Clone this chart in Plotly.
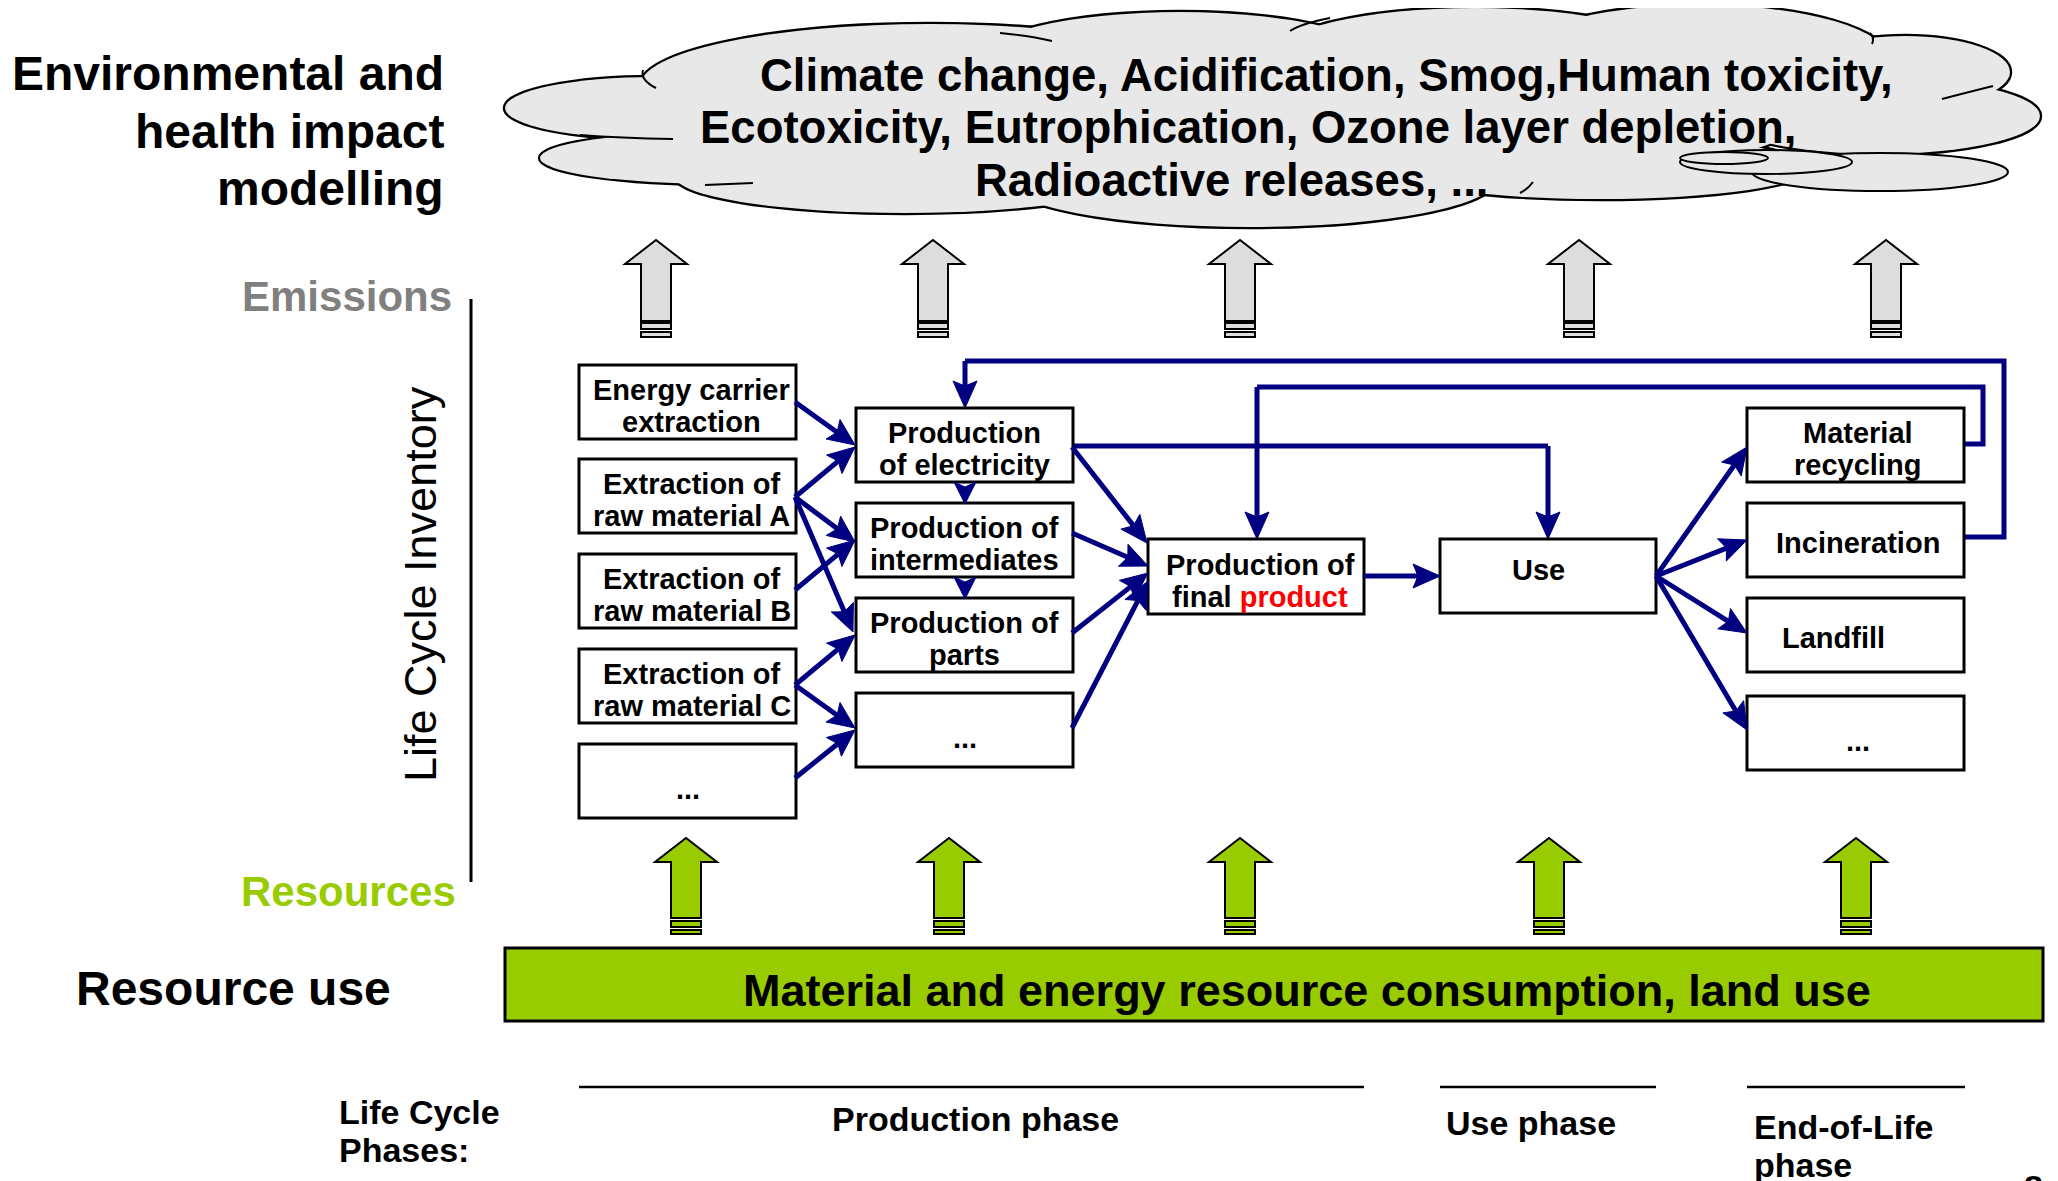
import math
import plotly.graph_objects as go

W, H = 2058, 1181
OFF = 8  # page body margin of the html file
FONT = "Liberation Sans, Arial, Helvetica, sans-serif"
NAVY = "#000080"
GREEN = "#99CC00"
CLOUD = "#E8E8E8"
EMIS = "#DDDDDD"

# ---------------- text content ----------------
impact_title = ["Environmental and", "health impact", "modelling"]
impact_categories = ["Climate change, Acidification, Smog,Human toxicity,",
                     "Ecotoxicity, Eutrophication, Ozone layer depletion,",
                     "Radioactive releases, ..."]
extraction_labels = [["Energy carrier", "extraction"], ["Extraction of", "raw material A"],
                     ["Extraction of", "raw material B"], ["Extraction of", "raw material C"], ["..."]]
production_labels = [["Production", "of electricity"], ["Production of", "intermediates"],
                     ["Production of", "parts"], ["..."]]
final_label = ["Production of", "final <span style='color:#FF0000'>product</span>"]
use_label = ["Use"]
eol_labels = [["Material", "recycling"], ["Incineration"], ["Landfill"], ["..."]]
resource_bar_text = "Material and energy resource consumption, land use"
phase_labels = ["Production phase", "Use phase", ["End-of-Life", "phase"]]

# ---------------- layout geometry ----------------
COL1_X = (579, 796)
COL1_Y = [365, 459, 554, 649, 744]
COL2_X = (856, 1073)
COL2_Y = [408, 503, 598, 693]
EOL_X = (1747, 1964)
EOL_Y = [408, 503, 598, 696]
BOX_H = 74
FINAL_BOX = (1148, 539, 1364, 614)
USE_BOX = (1440, 539, 1656, 613)
EMIS_X = [656, 933, 1240, 1579, 1886]
RES_X = [686, 949, 1240, 1549, 1856]

shapes = []
annos = []


def text(x, y, s, size, color="black", bold=True, xanchor="center", angle=0):
    annos.append(dict(x=x, y=y, xref="x", yref="y", text=(f"<b>{s}</b>" if bold else s),
                      showarrow=False, xanchor=xanchor, yanchor="middle", textangle=angle,
                      font=dict(family=FONT, size=size, color=color)))


def box(x0, y0, x1, y1, lines, size=29, dx=0, offs=None):
    shapes.append(dict(type="rect", x0=x0, y0=y0, x1=x1, y1=y1,
                       line=dict(color="black", width=3), fillcolor="white"))
    cx = (x0 + x1) / 2 + dx
    cy = (y0 + y1) / 2
    if len(lines) == 2:
        ys = [cy - 12, cy + 20]
    else:
        ys = [cy + (offs if offs is not None else 3)]
    for s, yy in zip(lines, ys):
        text(cx, yy, s, size)


def arrow(x0, y0, x1, y1, L=27, Wd=12, color=NAVY, width=5):
    dx, dy = x1 - x0, y1 - y0
    d = math.hypot(dx, dy)
    ux, uy = dx / d, dy / d
    px, py = -uy, ux
    bx, by = x1 - L * ux, y1 - L * uy
    nx, ny = x1 - (L - 5) * ux, y1 - (L - 5) * uy
    if d > L:
        shapes.append(dict(type="line", x0=x0, y0=y0, x1=nx, y1=ny,
                           line=dict(color=color, width=width)))
    path = (f"M{x1},{y1} L{bx + Wd * px},{by + Wd * py} L{nx},{ny} "
            f"L{bx - Wd * px},{by - Wd * py} Z")
    shapes.append(dict(type="path", path=path, fillcolor=color, line=dict(color=color, width=1)))


def polyline_arrow(pts, color=NAVY, width=5, L=27, Wd=12):
    d = "M" + " L".join(f"{x},{y}" for x, y in pts[:-1])
    shapes.append(dict(type="path", path=d, line=dict(color=color, width=width)))
    arrow(pts[-2][0], pts[-2][1], pts[-1][0], pts[-1][1], L=L, Wd=Wd, color=color, width=width)


def block_arrow(cx, tip, head_base, shaft_bot, stripes, fill, hw=31, sw=15):
    path = (f"M{cx - sw},{shaft_bot} L{cx - sw},{head_base} L{cx - hw},{head_base} L{cx},{tip} "
            f"L{cx + hw},{head_base} L{cx + sw},{head_base} L{cx + sw},{shaft_bot} Z")
    shapes.append(dict(type="path", path=path, fillcolor=fill, line=dict(color="black", width=2)))
    for a, b in stripes:
        shapes.append(dict(type="rect", x0=cx - sw, x1=cx + sw, y0=a, y1=b,
                           fillcolor=fill, line=dict(color="black", width=2)))


# ---------------- cloud ----------------
cloud_lobes = [  # cx, cy, rx, ry
    (655, 108, 150, 31), (720, 158, 180, 26), (905, 176, 230, 37), (1250, 180, 245, 47),
    (1600, 168, 210, 31), (930, 86, 290, 62), (1180, 60, 200, 48), (1475, 55, 200, 47),
    (1700, 60, 190, 55), (1905, 72, 105, 36), (1880, 116, 160, 38), (1300, 120, 500, 70),
]
for cx, cy, rx, ry in cloud_lobes:
    shapes.append(dict(type="circle", x0=cx - rx, x1=cx + rx, y0=cy - ry, y1=cy + ry,
                       fillcolor=CLOUD, line=dict(color="black", width=4.5)))
for cx, cy, rx, ry in cloud_lobes:
    shapes.append(dict(type="circle", x0=cx - rx, x1=cx + rx, y0=cy - ry, y1=cy + ry,
                       fillcolor=CLOUD, line=dict(width=0)))
cloud_hooks = ["M643,70 Q640,80 656,88", "M1000,33 Q1030,36 1052,41", "M1870,33 Q1875,38 1872,44",
               "M1942,99 Q1965,93 1993,86", "M1520,193 Q1528,189 1533,182", "M580,135 Q620,138 673,139",
               "M753,183 L705,185", "M1290,31 Q1300,24 1330,18"]
for p in cloud_hooks:
    shapes.append(dict(type="path", path=p, line=dict(color="black", width=2)))
for cx, cy, rx, ry in [(1880, 172, 128, 19), (1766, 162, 86, 12), (1724, 158, 44, 6)]:
    shapes.append(dict(type="circle", x0=cx - rx, x1=cx + rx, y0=cy - ry, y1=cy + ry,
                       fillcolor=CLOUD, line=dict(color="black", width=2)))

for s, x, y in zip(impact_categories, [1326, 1248, 1231], [75, 127, 180]):
    text(x, y, s, 45.5)

# ---------------- left labels ----------------
for s, y in zip(impact_title, [73, 131, 188]):
    text(446, y, s, 48, xanchor="right")
text(454, 296, "Emissions", 42, color="#808080", xanchor="right")
text(458, 891, "Resources", 42, color=GREEN, xanchor="right")
text(420, 584, "Life Cycle Inventory", 45, bold=False, angle=-90)
text(74, 988, "Resource use", 48, xanchor="left")
shapes.append(dict(type="line", x0=471, x1=471, y0=299, y1=882, line=dict(color="black", width=3)))

# ---------------- emission / resource arrows ----------------
for cx in EMIS_X:
    block_arrow(cx, 240, 264, 321, [(323, 329), (332, 337)], EMIS)
for cx in RES_X:
    block_arrow(cx, 838, 862, 918, [(921, 927), (930, 934)], GREEN, sw=15)

# resource bar
shapes.append(dict(type="rect", x0=505, x1=2043, y0=948, y1=1021, fillcolor=GREEN,
                   line=dict(color="black", width=3)))
text(1307, 990, resource_bar_text, 45)

# ---------------- feedback loops (drawn first, under boxes) ----------------
polyline_arrow([(1964, 537), (2004, 537), (2004, 361), (965, 361), (965, 408)])
polyline_arrow([(1964, 444), (1983, 444), (1983, 387), (1257, 387), (1257, 539)])
polyline_arrow([(1072, 446), (1548, 446), (1548, 539)])

# ---------------- boxes ----------------
for y0, lab in zip(COL1_Y, extraction_labels):
    box(COL1_X[0], y0, COL1_X[1], y0 + BOX_H, lab, dx=4 if len(lab) == 2 else 0,
        offs=8 if lab == ["..."] else None)
for y0, lab in zip(COL2_Y, production_labels):
    box(COL2_X[0], y0, COL2_X[1], y0 + BOX_H, lab, offs=8 if lab == ["..."] else None)
box(*FINAL_BOX, final_label, dx=4)
box(*USE_BOX, use_label, dx=-10, offs=-6)
for y0, lab in zip(EOL_Y, eol_labels):
    box(EOL_X[0], y0, EOL_X[1], y0 + BOX_H, lab,
        dx=-22 if lab == ["Landfill"] else 2, offs=8 if lab == ["..."] else 3)

# ---------------- flow arrows ----------------
flows = [
    ((795, 402), (855, 445)), ((795, 497), (855, 447)), ((795, 497), (855, 542)),
    ((795, 497), (853, 632)), ((795, 590), (855, 540)), ((795, 685), (855, 635)),
    ((795, 685), (855, 728)), ((795, 778), (855, 730)),
    ((1072, 447), (1147, 543)), ((1072, 533), (1148, 566)), ((1072, 633), (1148, 573)),
    ((1072, 728), (1148, 581)),
    ((1364, 576), (1440, 576)),
    ((1656, 576), (1747, 447)), ((1656, 576), (1747, 540)), ((1656, 576), (1747, 633)),
    ((1656, 576), (1747, 730)),
]
for (a, b), (c, d) in flows:
    arrow(a, b, c, d)
arrow(965, 482, 965, 504, L=22, Wd=11)
arrow(965, 577, 965, 599, L=22, Wd=11)

# ---------------- life cycle phases ----------------
for x0, x1 in [(579, 1364), (1440, 1656), (1747, 1965)]:
    shapes.append(dict(type="line", x0=x0, x1=x1, y0=1087, y1=1087, line=dict(color="black", width=2.5)))
text(337, 1112, "Life Cycle", 34, xanchor="left")
text(337, 1150, "Phases:", 34, xanchor="left")
text(975, 1119, phase_labels[0], 34)
text(1444, 1123, phase_labels[1], 34, xanchor="left")
text(1752, 1127, phase_labels[2][0], 34, xanchor="left")
text(1752, 1165, phase_labels[2][1], 34, xanchor="left")
annos.append(dict(x=2033, y=1166, xref="x", yref="y", text="<b>8</b>", showarrow=False,
                  xanchor="center", yanchor="top", font=dict(family=FONT, size=34, color="black")))

fig = go.Figure()
fig.update_layout(
    width=W, height=H, margin=dict(l=0, r=0, t=0, b=0),
    paper_bgcolor="white", plot_bgcolor="white",
    xaxis=dict(range=[OFF, W + OFF], visible=False, fixedrange=True),
    yaxis=dict(range=[H + OFF, OFF], visible=False, fixedrange=True),
    shapes=shapes, annotations=annos, showlegend=False,
)
fig.write_html("out.html", config={"displayModeBar": False})
